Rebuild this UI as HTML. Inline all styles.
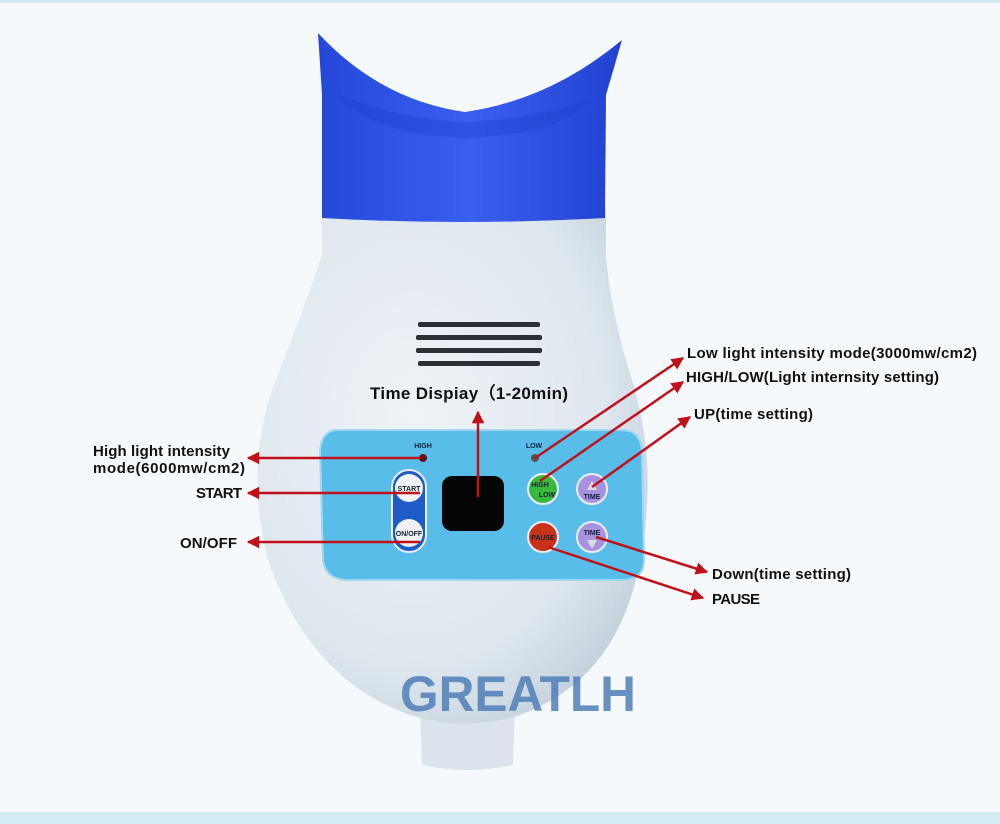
<!DOCTYPE html>
<html><head><meta charset="utf-8"><style>
html,body{margin:0;padding:0}
body{width:1000px;height:824px;background:#f6f9fb;position:relative;overflow:hidden;font-family:"Liberation Sans",sans-serif}
svg{position:absolute;left:0;top:0}
</style></head><body>
<svg width="1000" height="824" viewBox="0 0 1000 824">
<defs>
<radialGradient id="bg" cx="0.4" cy="0.4" r="0.75">
<stop offset="0" stop-color="#eef3f7"/><stop offset="0.65" stop-color="#dfe7ee"/><stop offset="1" stop-color="#b9c9d6"/></radialGradient>
<linearGradient id="cup" x1="0" y1="0" x2="1" y2="0">
<stop offset="0" stop-color="#2448d8"/><stop offset="0.5" stop-color="#3a5ef0"/><stop offset="1" stop-color="#2142d0"/></linearGradient>
<marker id="ar" viewBox="0 0 10 10" refX="9" refY="5" markerWidth="5" markerHeight="5" orient="auto"><path d="M0,0L10,5L0,10z" fill="#c0101a"/></marker>
</defs>
<rect x="0" y="0" width="1000" height="3" fill="#d3ebf3"/>
<rect x="0" y="812" width="1000" height="12" fill="#d3ebf3"/>
<path d="M420,710 L515,710 L513,765 Q467,775 422,765 Z" fill="#dbe4ec"/>
<path d="M322,210 L322,255 Q300,320 272,390 Q245,470 268,560 Q310,680 410,715 Q465,732 520,715 Q615,680 638,570 Q660,470 632,380 Q610,310 606,255 L606,210 Z" fill="url(#bg)"/>
<path d="M318,33 Q380,100 465,112 Q550,100 622,40 L606,95 L605,218 Q460,226 322,218 L322,95 Z" fill="url(#cup)"/>
<path d="M336,93 Q390,118 465,122 Q540,118 590,100 Q560,135 465,138 Q370,135 336,93Z" fill="#1f40cc" opacity="0.4"/>
<g fill="#2b2f36">
<rect x="418" y="322" width="122" height="5" rx="2"/><rect x="416" y="335" width="126" height="5" rx="2"/><rect x="416" y="348" width="126" height="5" rx="2"/><rect x="418" y="361" width="122" height="5" rx="2"/></g>
<path d="M335,430 L622,430 Q640,430 642,450 L644,560 Q644,578 625,580 L345,580 Q325,578 323,560 L320,450 Q322,432 335,430Z" fill="#58bde8" stroke="#9fd8f0" stroke-width="2"/>
<rect x="442" y="476" width="62" height="55" rx="10" fill="#050505"/>
<rect x="392" y="470" width="34" height="82" rx="17" fill="#1e5ac8" stroke="#eef" stroke-width="2"/>
<circle cx="409" cy="488" r="14" fill="#f0f2f4"/><circle cx="409" cy="533" r="14" fill="#f0f2f4"/>
<circle cx="543" cy="489" r="15" fill="#3aba3a" stroke="#eef" stroke-width="2"/>
<circle cx="543" cy="537" r="15" fill="#c8321a" stroke="#eef" stroke-width="2"/>
<circle cx="592" cy="489" r="15" fill="#a792e0" stroke="#eef" stroke-width="2"/>
<circle cx="592" cy="537" r="15" fill="#a792e0" stroke="#eef" stroke-width="2"/>
<circle cx="423" cy="458" r="4" fill="#6a0c0c"/><circle cx="535" cy="458" r="4" fill="#555"/>
<path d="M587,490 L592,481 L597,490Z" fill="#ddd"/><path d="M587,540 L592,549 L597,540Z" fill="#ddd"/>
<g font-size="7" font-weight="bold" fill="#123" text-anchor="middle">
<text x="423" y="448">HIGH</text><text x="534" y="448">LOW</text>
<text x="409" y="491">START</text><text x="409" y="536">ON/OFF</text>
<text x="540" y="487">HIGH</text><text x="547" y="497">LOW</text>
<text x="543" y="540">PAUSE</text>
<text x="592" y="499">TIME</text><text x="592" y="535">TIME</text></g>
<text x="400" y="711" font-size="50" font-weight="bold" fill="#4f7fb8" opacity="0.85" textLength="236" lengthAdjust="spacingAndGlyphs">GREATLH</text>
<g stroke="#c0101a" stroke-width="2.5" fill="none" marker-end="url(#ar)">
<line x1="420" y1="458" x2="248" y2="458"/>
<line x1="420" y1="493" x2="248" y2="493"/>
<line x1="420" y1="542" x2="248" y2="542"/>
<line x1="478" y1="497" x2="478" y2="412"/>
<line x1="535" y1="458" x2="683" y2="358"/>
<line x1="540" y1="481" x2="683" y2="382"/>
<line x1="592" y1="487" x2="690" y2="417"/>
<line x1="596" y1="537" x2="707" y2="572"/>
<line x1="548" y1="547" x2="703" y2="598"/>
</g>
<g font-size="15" font-weight="bold" fill="#111" lengthAdjust="spacingAndGlyphs">
<text x="93" y="456" textLength="137">High light intensity</text>
<text x="93" y="473" textLength="152">mode(6000mw/cm2)</text>
<text x="196" y="498" textLength="46">START</text>
<text x="180" y="548" textLength="57">ON/OFF</text>
<text x="370" y="399" font-size="17" textLength="198">Time Dispiay（1-20min)</text>
<text x="687" y="358" textLength="290">Low light intensity mode(3000mw/cm2)</text>
<text x="686" y="382" textLength="253">HIGH/LOW(Light internsity setting)</text>
<text x="694" y="419" textLength="119">UP(time setting)</text>
<text x="712" y="579" textLength="139">Down(time setting)</text>
<text x="712" y="604" textLength="48">PAUSE</text>
</g>
</svg>
</body></html>
